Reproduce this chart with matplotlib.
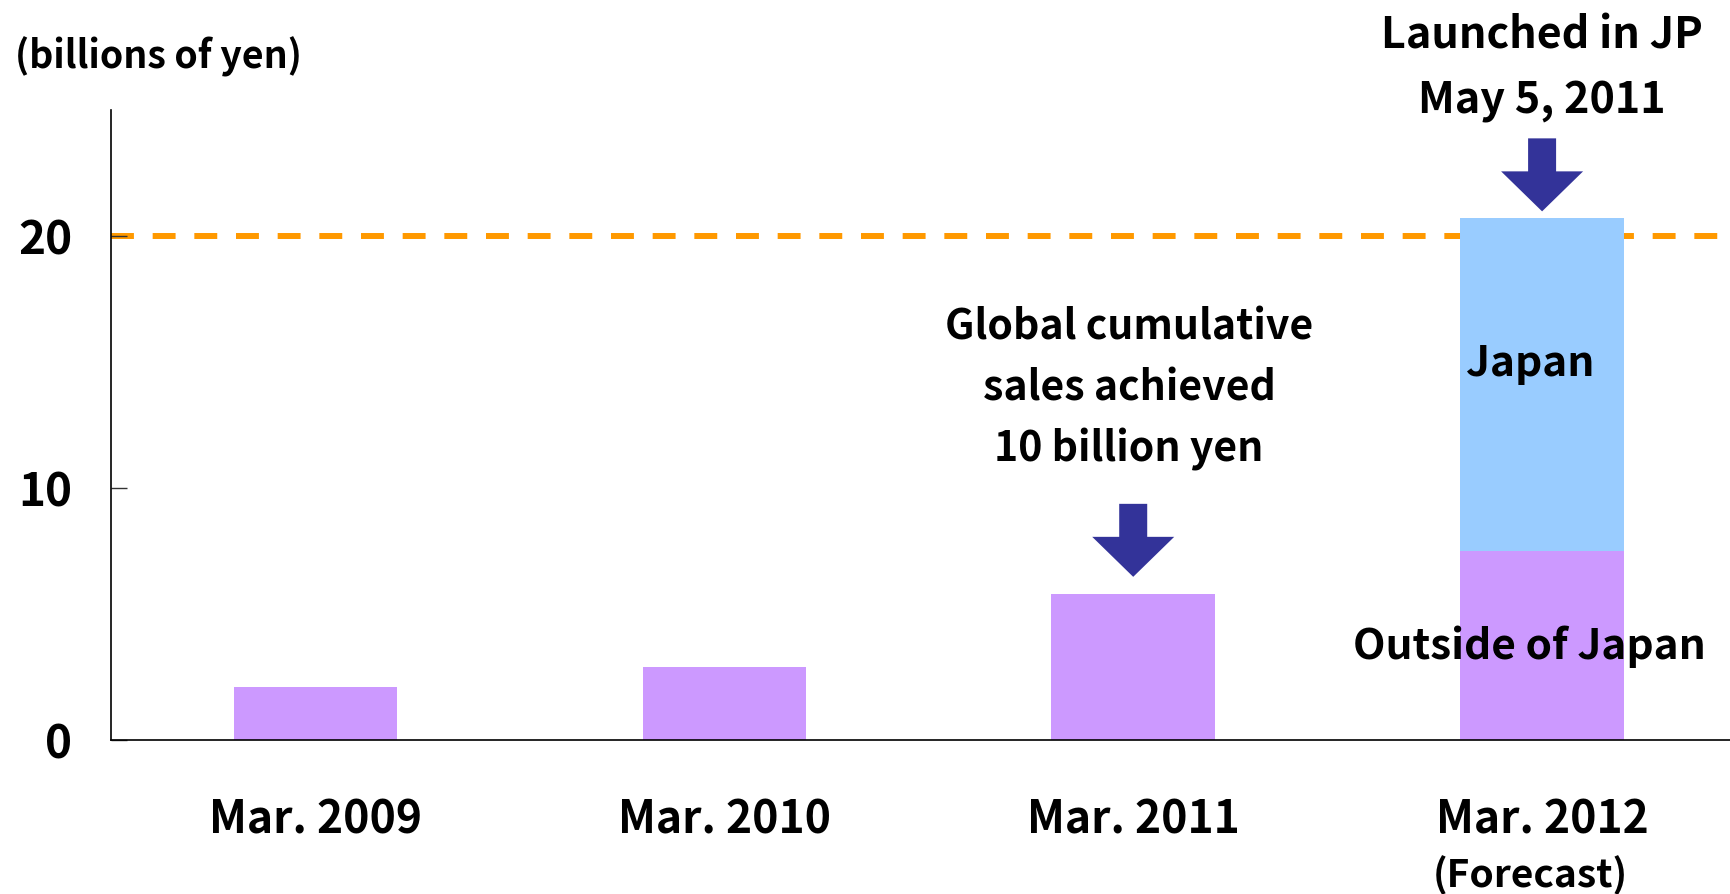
import matplotlib
matplotlib.use('Agg')
import matplotlib.pyplot as plt
import matplotlib.transforms as mtransforms
from matplotlib.patches import Polygon

# === Données (milliards de yens) ===
periodes = ["Mar. 2009", "Mar. 2010", "Mar. 2011", "Mar. 2012"]
hors_japon = [2.1, 2.9, 5.8, 7.5]
japon = [0, 0, 0, 13.2]
objectif = 20
yticks = [0, 10, 20]

COUL_HORS = "#CC99FF"
COUL_JP = "#99CCFF"
COUL_FLECHE = "#333399"
COUL_OBJ = "#FF9900"

plt.rcParams['font.family'] = ['Noto Sans CJK JP', 'DejaVu Sans']
plt.rcParams['font.weight'] = 'bold'
plt.rcParams['lines.scale_dashes'] = False

W, H = 1731, 895
fig = plt.figure(figsize=(W / 100, H / 100), dpi=100)
ax = fig.add_axes([111 / W, (H - 741) / H, (1731 - 111) / W, (741 - 111) / H])

x = list(range(len(periodes)))
ax.axhline(objectif, color=COUL_OBJ, lw=4.3, dashes=(16.5, 13.5), zorder=1)
ax.bar(x, hors_japon, width=0.4, color=COUL_HORS, zorder=2)
ax.bar(x, japon, width=0.4, bottom=hors_japon, color=COUL_JP, zorder=2)

ax.set_xlim(-0.5, 3.462)
ax.set_ylim(0, 25)
ax.set_yticks(yticks)
ax.set_yticklabels([str(v) for v in yticks], fontsize=33)
ax.set_xticks(x)
ax.set_xticklabels(periodes, fontsize=32)
ax.tick_params(axis='y', direction='in', length=11.5, width=1, color='#333333', pad=28)
ax.tick_params(axis='x', length=0, pad=41)
for s in ['top', 'right']:
    ax.spines[s].set_visible(False)
for s in ['left', 'bottom']:
    ax.spines[s].set_linewidth(1.2)

# === Flèches (dessinées en pixels depuis le sommet des barres) ===
def fleche(i, ecart_px):
    total = hors_japon[i] + japon[i]
    px, py = ax.transData.transform((x[i], total))
    py += ecart_px
    pts = [(0, 0), (-41, 40), (-14, 40), (-14, 73), (14, 73), (14, 40), (41, 40)]
    tr = mtransforms.Affine2D().translate(px, py)
    ax.add_patch(Polygon(pts, closed=True, transform=tr, facecolor=COUL_FLECHE,
                         edgecolor='none', clip_on=False, zorder=3))

fleche(2, 17)
fleche(3, 7)

# === Textes ===
fig.text(15 / W, 1 - 57 / H, "(billions of yen)", fontsize=27, va='center', ha='left')
ax.text(1.99, 13.97, "Global cumulative\nsales achieved\n10 billion yen",
        fontsize=29.5, ha='center', va='center', linespacing=1.57)
ax.text(3.0, 26.7, "Launched in JP\nMay 5, 2011", fontsize=31, ha='center',
        va='center', linespacing=1.62, clip_on=False)
ax.text(2.97, 14.96, "Japan", fontsize=30.5, ha='center', va='center')
ax.text(2.97, 3.73, "Outside of Japan", fontsize=30.5, ha='center', va='center')
ax.text(2.97, -5.35, "(Forecast)", fontsize=28, ha='center', va='center',
        clip_on=False)

plt.savefig("out.png", dpi=100)
